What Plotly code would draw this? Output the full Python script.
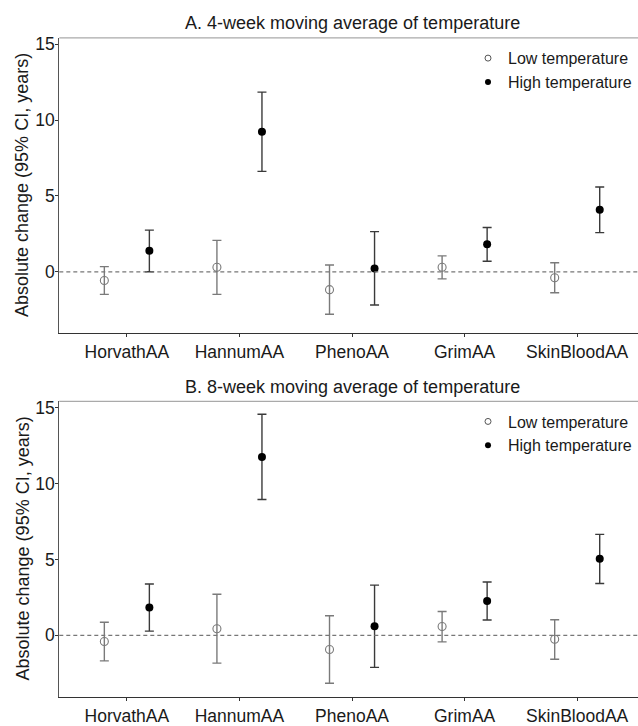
import plotly.graph_objects as go

# ---- data ----
categories = ["HorvathAA", "HannumAA", "PhenoAA", "GrimAA", "SkinBloodAA"]

# Panel A: 4-week moving average
a_low_est = [-0.58, 0.30, -1.18, 0.30, -0.39]
a_low_lo = [-1.49, -1.49, -2.80, -0.47, -1.38]
a_low_hi = [0.34, 2.07, 0.45, 1.05, 0.60]
a_high_est = [1.38, 9.23, 0.22, 1.81, 4.09]
a_high_lo = [0.00, 6.62, -2.19, 0.69, 2.58]
a_high_hi = [2.75, 11.85, 2.65, 2.92, 5.59]

# Panel B: 8-week moving average
b_low_est = [-0.41, 0.43, -0.93, 0.58, -0.26]
b_low_lo = [-1.68, -1.83, -3.16, -0.43, -1.57]
b_low_hi = [0.86, 2.71, 1.29, 1.57, 1.03]
b_high_est = [1.83, 11.75, 0.60, 2.26, 5.04]
b_high_lo = [0.28, 8.95, -2.11, 1.01, 3.42]
b_high_hi = [3.38, 14.57, 3.31, 3.51, 6.65]

panel_titles = ["A. 4-week moving average of temperature",
                "B. 8-week moving average of temperature"]
series_names = ["Low temperature", "High temperature"]
y_tickvals = [0, 5, 10, 15]

W, H = 638, 726


def px_x(px):
    return px / W


def px_y(py):
    return 1 - py / H


FONT = "Liberation Sans, Arial, sans-serif"
LOW_COL = "#7a7a7a"
HIGH_COL = "#3a3a3a"

fig = go.Figure()

pos = list(range(1, len(categories) + 1))
dodge = 0.2

panels = [
    (a_low_est, a_low_lo, a_low_hi, a_high_est, a_high_lo, a_high_hi, "x", "y", "legend"),
    (b_low_est, b_low_lo, b_low_hi, b_high_est, b_high_lo, b_high_hi, "x2", "y2", "legend2"),
]

for (le, ll, lh, he, hl, hh, xa, ya, lg) in panels:
    fig.add_trace(go.Scatter(
        x=[p - dodge for p in pos], y=le, mode="markers", xaxis=xa, yaxis=ya,
        showlegend=False,
        marker=dict(symbol="circle-open", size=8, color=LOW_COL, line=dict(width=1.1, color=LOW_COL)),
        error_y=dict(type="data", symmetric=False,
                     array=[h - e for h, e in zip(lh, le)],
                     arrayminus=[e - l for e, l in zip(le, ll)],
                     color=LOW_COL, thickness=1.4, width=4.5),
    ))
    fig.add_trace(go.Scatter(
        x=[p + dodge for p in pos], y=he, mode="markers", xaxis=xa, yaxis=ya,
        showlegend=False,
        marker=dict(symbol="circle", size=8, color="black"),
        error_y=dict(type="data", symmetric=False,
                     array=[h - e for h, e in zip(hh, he)],
                     arrayminus=[e - l for e, l in zip(he, hl)],
                     color=HIGH_COL, thickness=1.4, width=4.5),
    ))
    # legend entries (smaller markers)
    fig.add_trace(go.Scatter(
        x=[None], y=[None], mode="markers", xaxis=xa, yaxis=ya, name=series_names[0],
        legend=lg, showlegend=True,
        marker=dict(symbol="circle-open", size=6, color="#555", line=dict(width=1, color="#555")),
    ))
    fig.add_trace(go.Scatter(
        x=[None], y=[None], mode="markers", xaxis=xa, yaxis=ya, name=series_names[1],
        legend=lg, showlegend=True,
        marker=dict(symbol="circle", size=6, color="black"),
    ))

xl = px_x(59.3)
domA = [px_y(337), px_y(35.7)]
domB = [px_y(708.3), px_y(406.7)]

xcommon = dict(range=[0.4, 5.54], tickvals=pos, ticktext=categories, showgrid=False,
               zeroline=False, showline=True, linecolor="#333", linewidth=1.2,
               ticks="outside", ticklen=3, tickcolor="#333", tickwidth=1,
               tickfont=dict(family=FONT, size=17.5, color="#1a1a1a"), domain=[xl, 1])
ycommon = dict(range=[-4.04, 15.42], tickvals=y_tickvals, showgrid=False, zeroline=False,
               showline=True, linecolor="#555", linewidth=1.2,
               ticks="outside", ticklen=3, tickcolor="#333", tickwidth=1,
               ticklabelstandoff=-3,
               tickfont=dict(family=FONT, size=17.5, color="#1a1a1a"))

fig.update_layout(
    width=W, height=H, margin=dict(l=0, r=0, t=0, b=0),
    plot_bgcolor="white", paper_bgcolor="white",
    font=dict(family=FONT, color="#1a1a1a"),
    xaxis=dict(anchor="y", **xcommon),
    xaxis2=dict(anchor="y2", **xcommon),
    yaxis=dict(anchor="x", domain=domA, **ycommon),
    yaxis2=dict(anchor="x2", domain=domB, **ycommon),
    legend=dict(x=px_x(468), xanchor="left", y=px_y(39), yanchor="top",
                bgcolor="rgba(0,0,0,0)", font=dict(family=FONT, size=16, color="#1a1a1a"),
                itemwidth=30, tracegroupgap=0),
    legend2=dict(x=px_x(468), xanchor="left", y=px_y(410), yanchor="top",
                 bgcolor="rgba(0,0,0,0)", font=dict(family=FONT, size=16, color="#1a1a1a"),
                 itemwidth=30, tracegroupgap=0),
)

shapes = []
annotations = []
for (xa, ya, dom, title, ty) in [("x", "y", domA, panel_titles[0], 20),
                                 ("x2", "y2", domB, panel_titles[1], 392)]:
    # dashed reference line at 0
    shapes.append(dict(type="line", xref=f"{xa} domain", yref=ya, x0=0, x1=1, y0=0, y1=0,
                       line=dict(color="#777", width=1.3, dash="4px,3px")))
    # top border
    shapes.append(dict(type="line", xref=f"{xa} domain", yref=f"{ya} domain", x0=0, x1=1, y0=1, y1=1,
                       line=dict(color="#aaa", width=1.3)))
    annotations.append(dict(text=title, xref="paper", yref="paper", x=px_x(352),
                            y=px_y(ty), xanchor="center", yanchor="middle",
                            showarrow=False, font=dict(family=FONT, size=18, color="#1a1a1a")))
    annotations.append(dict(text="Absolute change (95% CI, years)", xref="paper", yref="paper",
                            x=px_x(22.5), y=(dom[0] + dom[1]) / 2, textangle=-90,
                            xanchor="center", yanchor="middle", showarrow=False,
                            font=dict(family=FONT, size=18, color="#1a1a1a")))

fig.update_layout(shapes=shapes, annotations=annotations)

fig.write_html("out.html",
               config={"displayModeBar": False},
               post_script="document.body.style.margin='0';document.body.style.overflow='hidden';")
